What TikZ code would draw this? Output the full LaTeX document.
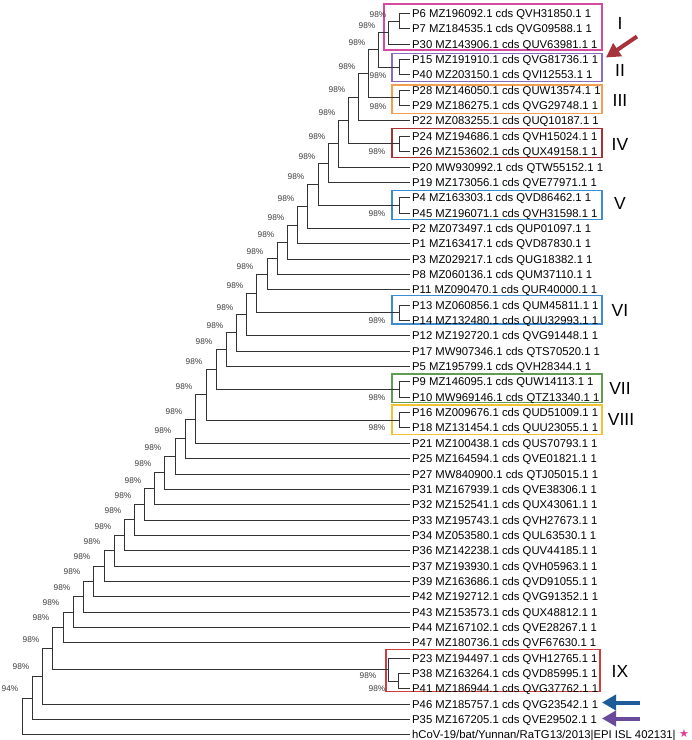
\documentclass[tikz,border=0pt]{standalone}
\usepackage{fontspec}
\setmainfont{Liberation Sans}
\newfontfamily\symfont{DejaVu Sans}
\usetikzlibrary{arrows.meta}
\definecolor{treec}{HTML}{333333}
\definecolor{bslab}{HTML}{3C3C3C}
\definecolor{cI}{HTML}{D64AA0}
\definecolor{cII}{HTML}{8B6CC4}
\definecolor{cIII}{HTML}{F0A050}
\definecolor{cIV}{HTML}{A83232}
\definecolor{cV}{HTML}{3D8BD0}
\definecolor{cVII}{HTML}{5F9E52}
\definecolor{cVIII}{HTML}{F2C232}
\definecolor{cIX}{HTML}{D23C3C}
\definecolor{arrred}{HTML}{A8323C}
\definecolor{arrblue}{HTML}{1D5B99}
\definecolor{arrpurp}{HTML}{6A4A9C}
\definecolor{starc}{HTML}{E23D96}
\begin{document}
\begin{tikzpicture}[x=1pt,y=-1pt,
  br/.style={draw=treec, line width=1pt},
  leaf/.style={anchor=west, inner xsep=2pt, inner ysep=0pt, text height=8pt, text depth=0pt, font=\fontsize{11.3}{13}\selectfont, text=black},
  bs/.style={font=\fontsize{8.3}{9}\selectfont, text=bslab, inner sep=0pt},
  clbox/.style={line width=1.2pt},
  roman/.style={font=\fontsize{17.5}{20}\selectfont, inner sep=0pt},
  fat/.style={line width=4pt, -{Triangle[length=14pt,width=15pt]}}
]
\useasboundingbox (0,0) rectangle (692,740);
% clade boxes
\draw[clbox, cI]   (384,4) rectangle (602,50);
\draw[clbox, cII]  (392,53.3) rectangle (602,81.7);
\draw[clbox, cIII] (392,85) rectangle (602,113.3);
\draw[clbox, cIV]  (392,128.3) rectangle (602,157.7);
\draw[clbox, cV]   (392,190.7) rectangle (602,219.3);
\draw[clbox, cV]   (392,295.7) rectangle (602,324);
\draw[clbox, cVII] (392,374) rectangle (602,402.7);
\draw[clbox, cVIII](392,405) rectangle (602,434.3);
\draw[clbox, cIX]  (386,649.3) rectangle (600,691.7);
% leaves
\foreach \i/\t in {
0/{P6 MZ196092.1 cds QVH31850.1 1},
1/{P7 MZ184535.1 cds QVG09588.1 1},
2/{P30 MZ143906.1 cds QUV63981.1 1},
3/{P15 MZ191910.1 cds QVG81736.1 1},
4/{P40 MZ203150.1 cds QVI12553.1 1},
5/{P28 MZ146050.1 cds QUW13574.1 1},
6/{P29 MZ186275.1 cds QVG29748.1 1},
7/{P22 MZ083255.1 cds QUQ10187.1 1},
8/{P24 MZ194686.1 cds QVH15024.1 1},
9/{P26 MZ153602.1 cds QUX49158.1 1},
10/{P20 MW930992.1 cds QTW55152.1 1},
11/{P19 MZ173056.1 cds QVE77971.1 1},
12/{P4 MZ163303.1 cds QVD86462.1 1},
13/{P45 MZ196071.1 cds QVH31598.1 1},
14/{P2 MZ073497.1 cds QUP01097.1 1},
15/{P1 MZ163417.1 cds QVD87830.1 1},
16/{P3 MZ029217.1 cds QUG18382.1 1},
17/{P8 MZ060136.1 cds QUM37110.1 1},
18/{P11 MZ090470.1 cds QUR40000.1 1},
19/{P13 MZ060856.1 cds QUM45811.1 1},
20/{P14 MZ132480.1 cds QUU32993.1 1},
21/{P12 MZ192720.1 cds QVG91448.1 1},
22/{P17 MW907346.1 cds QTS70520.1 1},
23/{P5 MZ195799.1 cds QVH28344.1 1},
24/{P9 MZ146095.1 cds QUW14113.1 1},
25/{P10 MW969146.1 cds QTZ13340.1 1},
26/{P16 MZ009676.1 cds QUD51009.1 1},
27/{P18 MZ131454.1 cds QUU23055.1 1},
28/{P21 MZ100438.1 cds QUS70793.1 1},
29/{P25 MZ164594.1 cds QVE01821.1 1},
30/{P27 MW840900.1 cds QTJ05015.1 1},
31/{P31 MZ167939.1 cds QVE38306.1 1},
32/{P32 MZ152541.1 cds QUX43061.1 1},
33/{P33 MZ195743.1 cds QVH27673.1 1},
34/{P34 MZ053580.1 cds QUL63530.1 1},
35/{P36 MZ142238.1 cds QUV44185.1 1},
36/{P37 MZ193930.1 cds QVH05963.1 1},
37/{P39 MZ163686.1 cds QVD91055.1 1},
38/{P42 MZ192712.1 cds QVG91352.1 1},
39/{P43 MZ153573.1 cds QUX48812.1 1},
40/{P44 MZ167102.1 cds QVE28267.1 1},
41/{P47 MZ180736.1 cds QVF67630.1 1},
42/{P23 MZ194497.1 cds QVH12765.1 1},
43/{P38 MZ163264.1 cds QVD85995.1 1},
44/{P41 MZ186944.1 cds QVG37762.1 1},
45/{P46 MZ185757.1 cds QVG23542.1 1},
46/{P35 MZ167205.1 cds QVE29502.1 1}}
  \node[leaf] (L\i) at (410,{13.5+15.35*\i}) {\t};
\node[leaf] (L47) at (410,734.95) {hCoV-19/bat/Yunnan/RaTG13/2013|EPI ISL 402131|};
\node[text=starc, inner sep=0pt, font=\symfont\fontsize{11}{12}\selectfont] (star) at (684,733.5) {★};
% internal nodes
\foreach \n/\x/\y in {
nA/399/21.175, nI/388/32.6875, nII/399/67.225, nB/378/49.956,
nIII/399/97.925, nC/368/73.94, nD/358/97.445, nIV/399/143.975,
nE/348/120.71, nF/338/143.855, nG/328/163.10, nV/399/205.375,
nH/318/184.24, nIb/307/206.32, nJ/297/225.035, nK/287/242.07,
nL/277/258.26, nM/267/274.03, nVI/399/312.825, nN/256/293.43,
nO/246/314.64, nP/236/332.92, nQ/226/349.735, nVII/399/389.575,
nR/216/369.655, nVIII/399/420.275, nS/206/394.965, nT/195/419.13,
nU/185/438.89, nVb/175/456.445, nW/164/472.90, nX/154/488.80,
nY/144/504.425, nZ/134/519.91, nAA/124/535.33, nBB/114/550.715,
nCC/104/566.08, nDD/93/581.44, nEE/83/596.795, nFF/73/612.15,
nGG/63/627.50, nIXin/398/681.225, nIX/388/669.71, nHH/52/648.605,
nIIb/42/676.43, nJJ/32/698.01, nRoot/22/716.48}
  \coordinate (\n) at (\x,\y);
% branches
\foreach \p/\c in {
nA/L0.west, nA/L1.west, nI/nA, nI/L2.west,
nII/L3.west, nII/L4.west, nB/nI, nB/nII,
nIII/L5.west, nIII/L6.west, nC/nB, nC/nIII,
nD/nC, nD/L7.west, nIV/L8.west, nIV/L9.west,
nE/nD, nE/nIV, nF/nE, nF/L10.west, nG/nF, nG/L11.west,
nV/L12.west, nV/L13.west, nH/nG, nH/nV,
nIb/nH, nIb/L14.west, nJ/nIb, nJ/L15.west,
nK/nJ, nK/L16.west, nL/nK, nL/L17.west, nM/nL, nM/L18.west,
nVI/L19.west, nVI/L20.west, nN/nM, nN/nVI,
nO/nN, nO/L21.west, nP/nO, nP/L22.west, nQ/nP, nQ/L23.west,
nVII/L24.west, nVII/L25.west, nR/nQ, nR/nVII,
nVIII/L26.west, nVIII/L27.west, nS/nR, nS/nVIII,
nT/nS, nT/L28.west, nU/nT, nU/L29.west, nVb/nU, nVb/L30.west,
nW/nVb, nW/L31.west, nX/nW, nX/L32.west, nY/nX, nY/L33.west,
nZ/nY, nZ/L34.west, nAA/nZ, nAA/L35.west, nBB/nAA, nBB/L36.west,
nCC/nBB, nCC/L37.west, nDD/nCC, nDD/L38.west, nEE/nDD, nEE/L39.west,
nFF/nEE, nFF/L40.west, nGG/nFF, nGG/L41.west,
nIXin/L43.west, nIXin/L44.west, nIX/L42.west, nIX/nIXin,
nHH/nGG, nHH/nIX, nIIb/nHH, nIIb/L45.west,
nJJ/nIIb, nJJ/L46.west, nRoot/nJJ, nRoot/L47.west}
  \draw[br] (\p) |- (\c);
% bootstrap labels
\foreach \k/\x/\y in {
1/378/15, 2/367/26, 3/378/76, 4/357/43, 5/378/107, 6/347/67, 7/337/90,
8/377/152, 9/327/113, 10/317/137, 11/307/157, 12/377/214, 13/296/177,
14/286/199, 15/276/218, 16/266/235, 17/255/252, 18/245/267, 19/377/321,
20/235/286, 21/225/308, 22/215/326, 23/204/342, 24/377/398, 25/194/362,
26/377/428, 27/184/387, 28/174/412, 29/163/431, 30/153/448, 31/143/464,
32/133/481, 33/123/496, 34/113/511, 35/103/527, 36/92/542, 37/82/557,
38/72/572, 39/62/588, 40/51/603, 41/41/618, 42/377/689, 43/368/676,
44/31/640, 45/21/667}
  \node[bs] (bs\k) at (\x,\y) {98\%};
\node[bs] (bs46) at (10,689) {94\%};
% clade numerals
\node[roman] (rI) at (620,23.3) {I};
\node[roman] (rII) at (620,70) {II};
\node[roman] (rIII) at (620,100) {III};
\node[roman] (rIV) at (620,144) {IV};
\node[roman] (rV) at (620,203.5) {V};
\node[roman] (rVI) at (620,310.5) {VI};
\node[roman] (rVII) at (620,388) {VII};
\node[roman] (rVIII) at (621,419.5) {VIII};
\node[roman] (rIX) at (620,671) {IX};
% arrows
\coordinate (raS) at (637,36.5);
\coordinate (raE) at (606,57.5);
\coordinate (baS) at (640,702.5);
\coordinate (baE) at (602,702.5);
\coordinate (paS) at (640,718.5);
\coordinate (paE) at (602,718.5);
\draw[fat, arrred] (raS) -- (raE);
\draw[fat, arrblue] (baS) -- (baE);
\draw[fat, arrpurp] (paS) -- (paE);
\end{tikzpicture}
\end{document}
